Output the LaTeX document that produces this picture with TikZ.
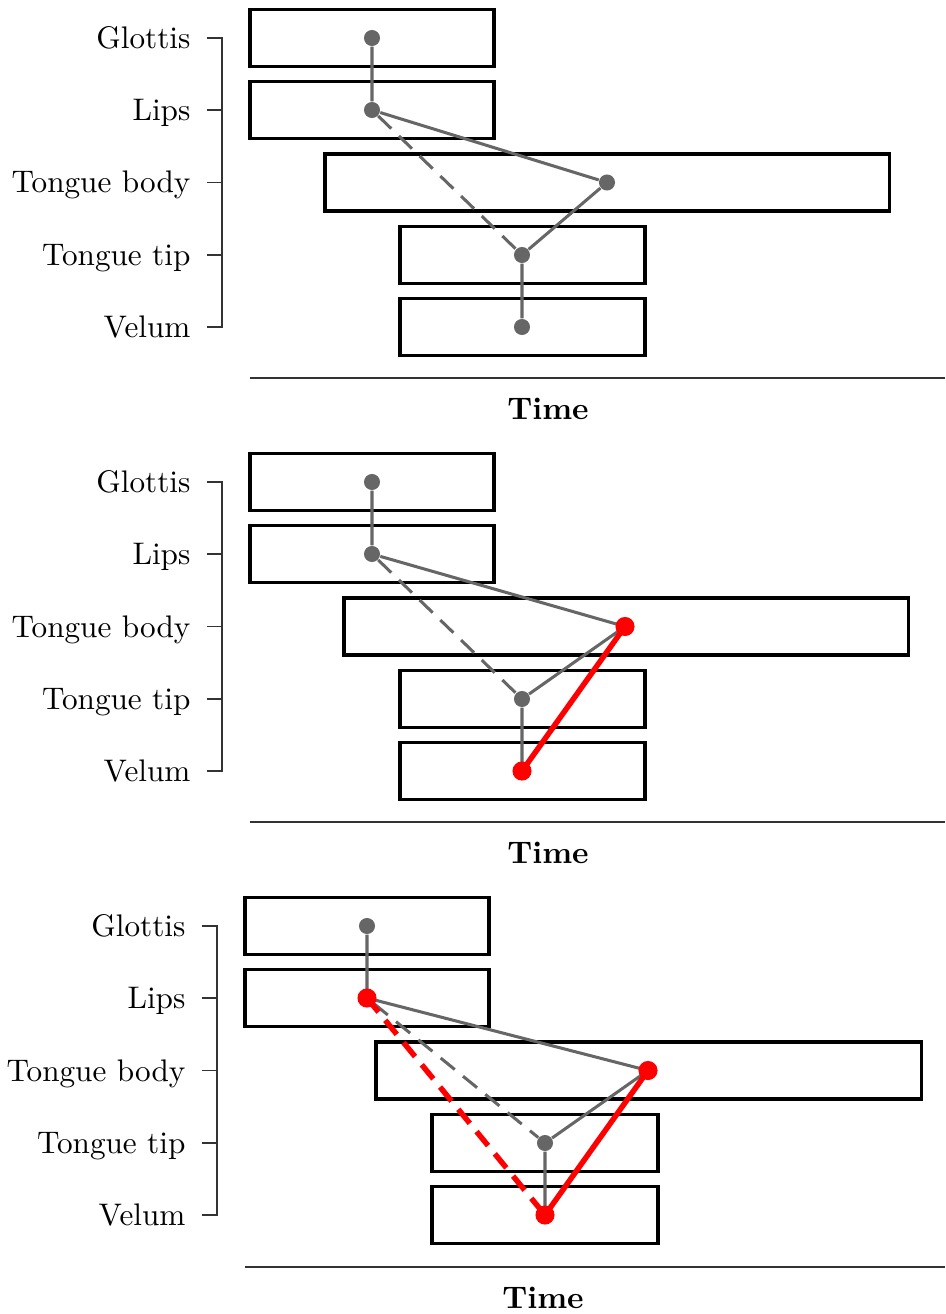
\documentclass[tikz,border=0pt]{standalone}
\usepackage{amsmath}
\usepackage{tikz}
\usetikzlibrary{fit,calc,positioning}
\tikzset{bar/.style={draw, line width=1pt, inner sep=0pt, rectangle}}
\tikzset{dot/.style={circle, fill=black!60, inner sep=0pt, minimum size=5.3pt}}
\tikzset{rdot/.style={circle, fill=red, inner sep=0pt, minimum size=6.3pt}}
\tikzstyle{lab}=[anchor=base east, inner sep=0pt]
\tikzstyle{gl}=[draw=black!60, line width=1pt]
\tikzstyle{rl}=[draw=red, line width=1.8pt]
\tikzstyle{axis}=[draw=black!80, line width=0.35pt]

\begin{document}
\begin{tikzpicture}[x=0.33pt, y=-0.33pt, font=\fontsize{10.3}{12}\selectfont]
\useasboundingbox (0,0) rectangle (945,1314);
% first panel
\begin{scope}
\node[lab] (g1) at (191,48.5) {Glottis};
\node[lab] (l1) at (191,120.5) {Lips};
\node[lab] (b1) at (191,193) {Tongue body};
\node[lab] (t1) at (191,265.5) {Tongue tip};
\node[lab] (v1) at (191,337.5) {Velum};
\path[axis] (207,38) -- (222,38) -- (222,327) -- (207,327)
  (207,110) -- (222,110) (207,182.5) -- (222,182.5) (207,255) -- (222,255);
\node[bar, fit={(250,9.5) (494,66.5)}] (bG1) {};
\node[bar, fit={(250,81.5) (494,138.5)}] (bL1) {};
\node[bar, fit={(325,154) (889,211)}] (bB1) {};
\node[bar, fit={(400,226.5) (645,283.5)}] (bT1) {};
\node[bar, fit={(400,298.5) (645,355.5)}] (bV1) {};
\node[dot] (G1) at (372,38) {};
\node[dot] (L1) at (372,110) {};
\node[dot] (B1) at (607,182.5) {};
\node[dot] (T1) at (522,255) {};
\node[dot] (V1) at (522,327) {};
\path[gl] (G1) -- (L1) (L1) -- (B1) (B1) -- (T1) (T1) -- (V1);
\path[gl, dashed, dash pattern=on 6pt off 3.5pt] (L1) -- (T1);
\path[axis] (250,378) -- (945,378);
\node[font=\fontsize{10.3}{12}\selectfont\bfseries, anchor=base, inner sep=0pt] (time1) at (548,419) {Time};
\end{scope}
% second panel
\begin{scope}[shift={(0,444)}]
\node[lab] (g2) at (191,48.5) {Glottis};
\node[lab] (l2) at (191,120.5) {Lips};
\node[lab] (b2) at (191,193) {Tongue body};
\node[lab] (t2) at (191,265.5) {Tongue tip};
\node[lab] (v2) at (191,337.5) {Velum};
\path[axis] (207,38) -- (222,38) -- (222,327) -- (207,327)
  (207,110) -- (222,110) (207,182.5) -- (222,182.5) (207,255) -- (222,255);
\node[bar, fit={(250,9.5) (494,66.5)}] (bG2) {};
\node[bar, fit={(250,81.5) (494,138.5)}] (bL2) {};
\node[bar, fit={(344,154) (908,211)}] (bB2) {};
\node[bar, fit={(400,226.5) (645,283.5)}] (bT2) {};
\node[bar, fit={(400,298.5) (645,355.5)}] (bV2) {};
\node[dot] (G2) at (372,38) {};
\node[dot] (L2) at (372,110) {};
\node[dot] (B2) at (625,182.5) {};
\node[dot] (T2) at (522,255) {};
\node[dot] (V2) at (522,327) {};
\path[gl] (G2) -- (L2) (L2) -- (B2) (B2) -- (T2) (T2) -- (V2);
\path[gl, dashed, dash pattern=on 6pt off 3.5pt] (L2) -- (T2);
\path[rl] (B2.center) -- (V2.center);
\node[rdot] at (B2) {};
\node[rdot] at (V2) {};
\path[axis] (250,378) -- (945,378);
\node[font=\fontsize{10.3}{12}\selectfont\bfseries, anchor=base, inner sep=0pt] (time2) at (548,419) {Time};
\end{scope}
% third panel
\begin{scope}[shift={(0,888)}]
\node[lab] (g3) at (186,48.5) {Glottis};
\node[lab] (l3) at (186,120.5) {Lips};
\node[lab] (b3) at (186,193) {Tongue body};
\node[lab] (t3) at (186,265.5) {Tongue tip};
\node[lab] (v3) at (186,337.5) {Velum};
\path[axis] (202,38) -- (217,38) -- (217,327) -- (202,327)
  (202,110) -- (217,110) (202,182.5) -- (217,182.5) (202,255) -- (217,255);
\node[bar, fit={(245,9.5) (489,66.5)}] (bG3) {};
\node[bar, fit={(245,81.5) (489,138.5)}] (bL3) {};
\node[bar, fit={(376,154) (921,211)}] (bB3) {};
\node[bar, fit={(432,226.5) (658,283.5)}] (bT3) {};
\node[bar, fit={(432,298.5) (658,355.5)}] (bV3) {};
\node[dot] (G3) at (367,38) {};
\node[dot] (L3) at (367,110) {};
\node[dot] (B3) at (648,182.5) {};
\node[dot] (T3) at (545,255) {};
\node[dot] (V3) at (545,327) {};
\path[gl] (G3) -- (L3) (L3) -- (B3) (B3) -- (T3) (T3) -- (V3);
\path[gl, dashed, dash pattern=on 6pt off 3.5pt] (L3) -- (T3);
\path[rl] (B3.center) -- (V3.center);
\path[rl, dashed, dash pattern=on 6pt off 3.5pt] (L3.center) -- (V3.center);
\node[rdot] at (L3) {};
\node[rdot] at (B3) {};
\node[rdot] at (V3) {};
\path[axis] (245,379) -- (945,379);
\node[font=\fontsize{10.3}{12}\selectfont\bfseries, anchor=base, inner sep=0pt] (time3) at (543,420) {Time};
\end{scope}
\end{tikzpicture}
\end{document}
